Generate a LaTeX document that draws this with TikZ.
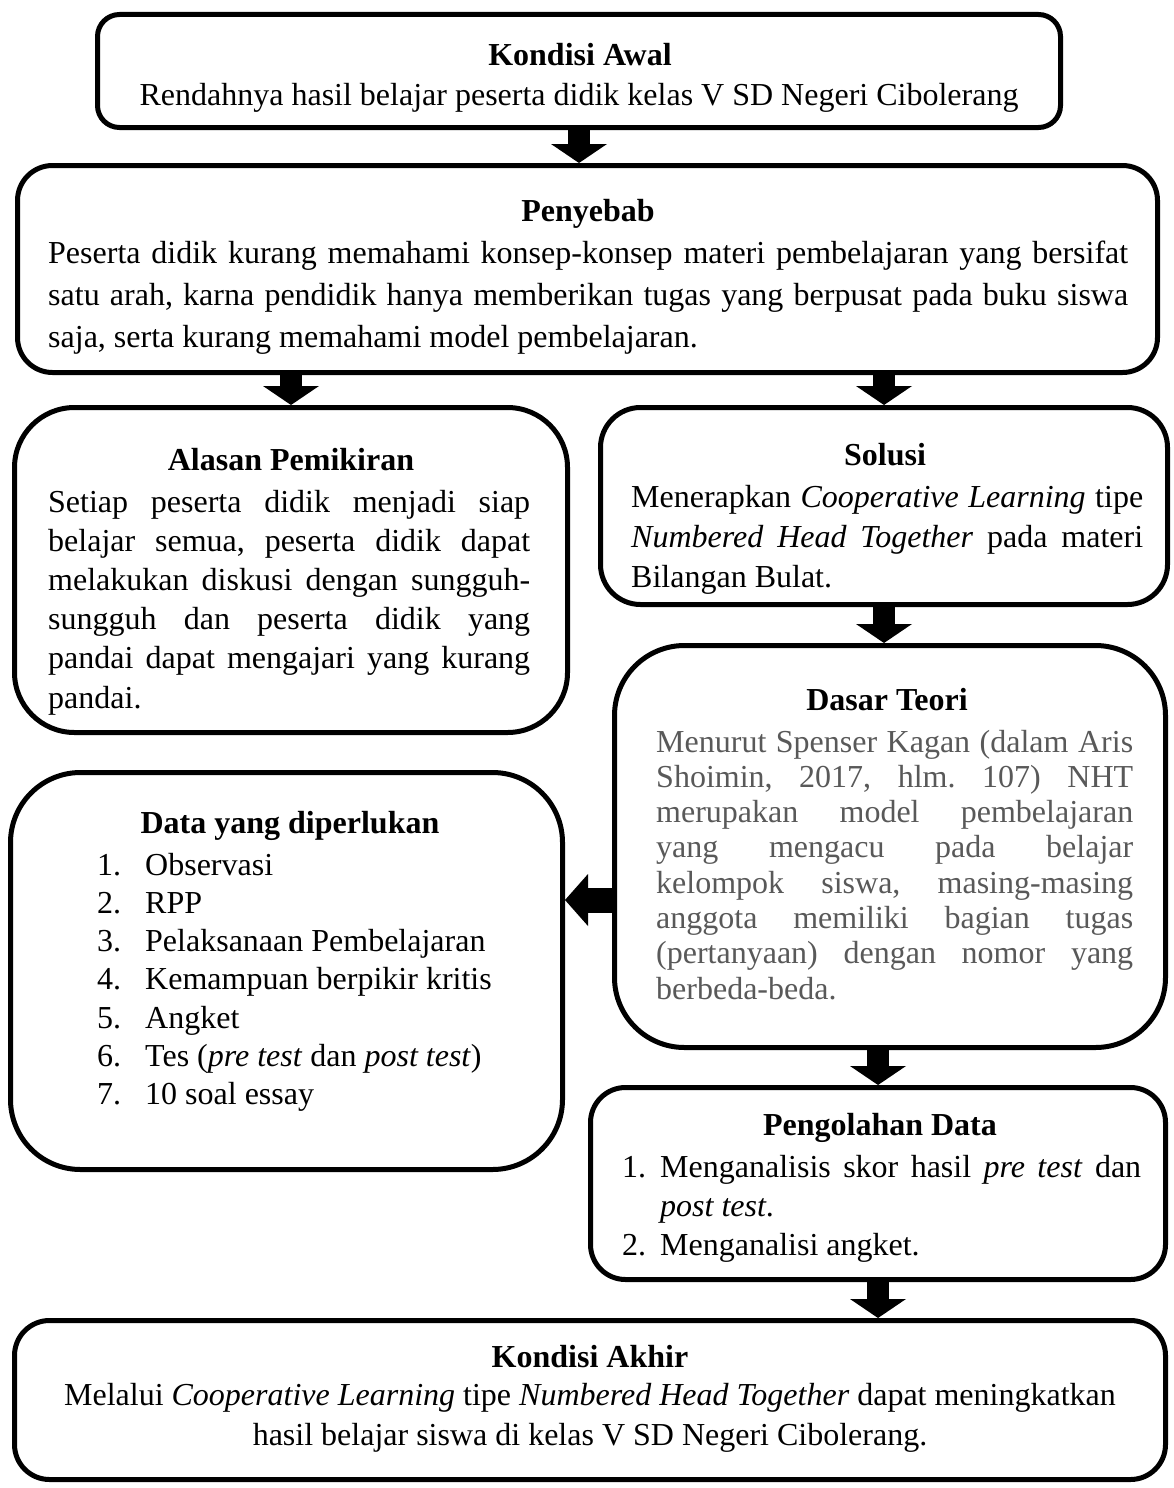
\documentclass[tikz,border=0pt]{standalone}
\usepackage{fontspec}
\setmainfont{Liberation Serif}
\usetikzlibrary{arrows.meta}
\definecolor{dgray}{RGB}{89,89,89}
\hyphenpenalty=10000
\exhyphenpenalty=10000
\tolerance=10000
\frenchspacing
\begin{document}
\begin{tikzpicture}[x=1pt,y=-1pt,
  box/.style={draw=black, line width=5pt, rounded corners=#1, fill=white, inner sep=0pt},
  box/.default=35pt,
  ttl/.style={font=\fontsize{32}{39}\selectfont\bfseries, anchor=base, inner sep=0pt},
  para/.style={font=\fontsize{32}{#1}\selectfont\frenchspacing, align=justify, anchor=base west, inner sep=0pt},
  lst/.style={font=\fontsize{32}{#1}\selectfont, align=flush left, anchor=base west, inner sep=0pt},
  ctext/.style={font=\fontsize{32}{#1}\selectfont, align=flush center, anchor=base, inner sep=0pt},
  barrow/.style={line width=22pt, -{Triangle[width=56pt,length=19pt,line width=0pt]}},
  larrow/.style={line width=25pt, -{Triangle[width=52pt,length=23pt,line width=0pt]}}
]
\useasboundingbox[fill=white] (0,0) rectangle (1173,1488);

% boxes
\node[box=22pt, minimum width=963pt, minimum height=113pt] (awal) at (579,71) {};
\node[box=35pt, minimum width=1140pt, minimum height=207pt] (pen) at (587.5,269) {};
\node[box=60pt, minimum width=553pt, minimum height=325pt] (alasan) at (291,570) {};
\node[box=40pt, minimum width=567pt, minimum height=197pt] (solusi) at (884,506) {};
\node[box=70pt, minimum width=551pt, minimum height=402pt] (dasar) at (890,846.5) {};
\node[box=70pt, minimum width=552pt, minimum height=397pt] (data) at (286.5,971) {};
\node[box=35pt, minimum width=575pt, minimum height=192pt] (peng) at (878,1183.5) {};
\node[box=35pt, minimum width=1151pt, minimum height=159pt] (akhir) at (590,1400) {};

% Kondisi Awal
\node[ttl] (t1) at (580,66) {Kondisi Awal};
\node[ctext=39] (b1) at (579,105) {Rendahnya hasil belajar peserta didik kelas V SD Negeri Cibolerang};

% Penyebab
\node[ttl] (t2) at (588,221) {Penyebab};
\node[para=42, text width=1080pt] (b2) at (48,263) {Peserta didik kurang memahami konsep-konsep materi pembelajaran yang bersifat\linebreak
satu arah, karna pendidik hanya memberikan tugas yang berpusat pada buku siswa\linebreak
saja, serta kurang memahami model pembelajaran.};

% Alasan Pemikiran
\node[ttl] (t3) at (291,470) {Alasan Pemikiran};
\node[para=39.2, text width=482pt] (b3) at (48,512) {Setiap peserta didik menjadi siap\linebreak
belajar semua, peserta didik dapat\linebreak
melakukan diskusi dengan sungguh-\linebreak
sungguh dan peserta didik yang\linebreak
pandai dapat mengajari yang kurang\linebreak
pandai.};

% Solusi
\node[ttl] (t4) at (885,465) {Solusi};
\node[para=40, text width=512pt] (b4) at (631,507) {Menerapkan \textit{Cooperative Learning} tipe\linebreak
\textit{Numbered Head Together} pada materi\linebreak
Bilangan Bulat.};

% Dasar Teori
\node[ttl] (t5) at (887,710) {Dasar Teori};
\node[para=35.3, text width=477pt, text=dgray] (b5) at (656,752) {Menurut Spenser Kagan (dalam Aris\linebreak
Shoimin, 2017, hlm. 107) NHT\linebreak
merupakan model pembelajaran\linebreak
yang mengacu pada belajar\linebreak
kelompok siswa, masing-masing\linebreak
anggota memiliki bagian tugas\linebreak
(pertanyaan) dengan nomor yang\linebreak
berbeda-beda.};

% Data yang diperlukan
\node[ttl] (t6) at (290,833) {Data yang diperlukan};
\node[lst=38.3, text width=440pt] (b6) at (97,875) {%
\makebox[48pt][l]{1.}Observasi\\
\makebox[48pt][l]{2.}RPP\\
\makebox[48pt][l]{3.}Pelaksanaan Pembelajaran\\
\makebox[48pt][l]{4.}Kemampuan berpikir kritis\\
\makebox[48pt][l]{5.}Angket\\
\makebox[48pt][l]{6.}Tes (\textit{pre test} dan \textit{post test})\\
\makebox[48pt][l]{7.}10 soal essay};

% Pengolahan Data
\node[ttl] (t7) at (880,1135) {Pengolahan Data};
\node[para=39, text width=519pt] (b7) at (622,1177) {\hangindent=38pt\hangafter=1\makebox[38pt][l]{1.}Menganalisis skor hasil \textit{pre test} dan\linebreak
\textit{post test}.\par
\makebox[38pt][l]{2.}Menganalisi angket.};

% Kondisi Akhir
\node[ttl] (t8) at (590,1367) {Kondisi Akhir};
\node[ctext=40, text width=1140pt] (b8) at (590,1405) {Melalui \textit{Cooperative Learning} tipe \textit{Numbered Head Together} dapat meningkatkan\\
hasil belajar siswa di kelas V SD Negeri Cibolerang.};

% arrows
\coordinate (lay) at (0,900);
\draw[barrow] (awal.south) -- (awal.south |- pen.north);
\draw[barrow] (alasan.north |- pen.south) -- (alasan.north);
\draw[barrow] (solusi.north |- pen.south) -- (solusi.north);
\draw[barrow] (solusi.south) -- (solusi.south |- dasar.north);
\draw[larrow] (dasar.west |- lay) -- (data.east |- lay);
\draw[barrow] (peng.north |- dasar.south) -- (peng.north);
\draw[barrow] (peng.south) -- (peng.south |- akhir.north);
\end{tikzpicture}
\end{document}
